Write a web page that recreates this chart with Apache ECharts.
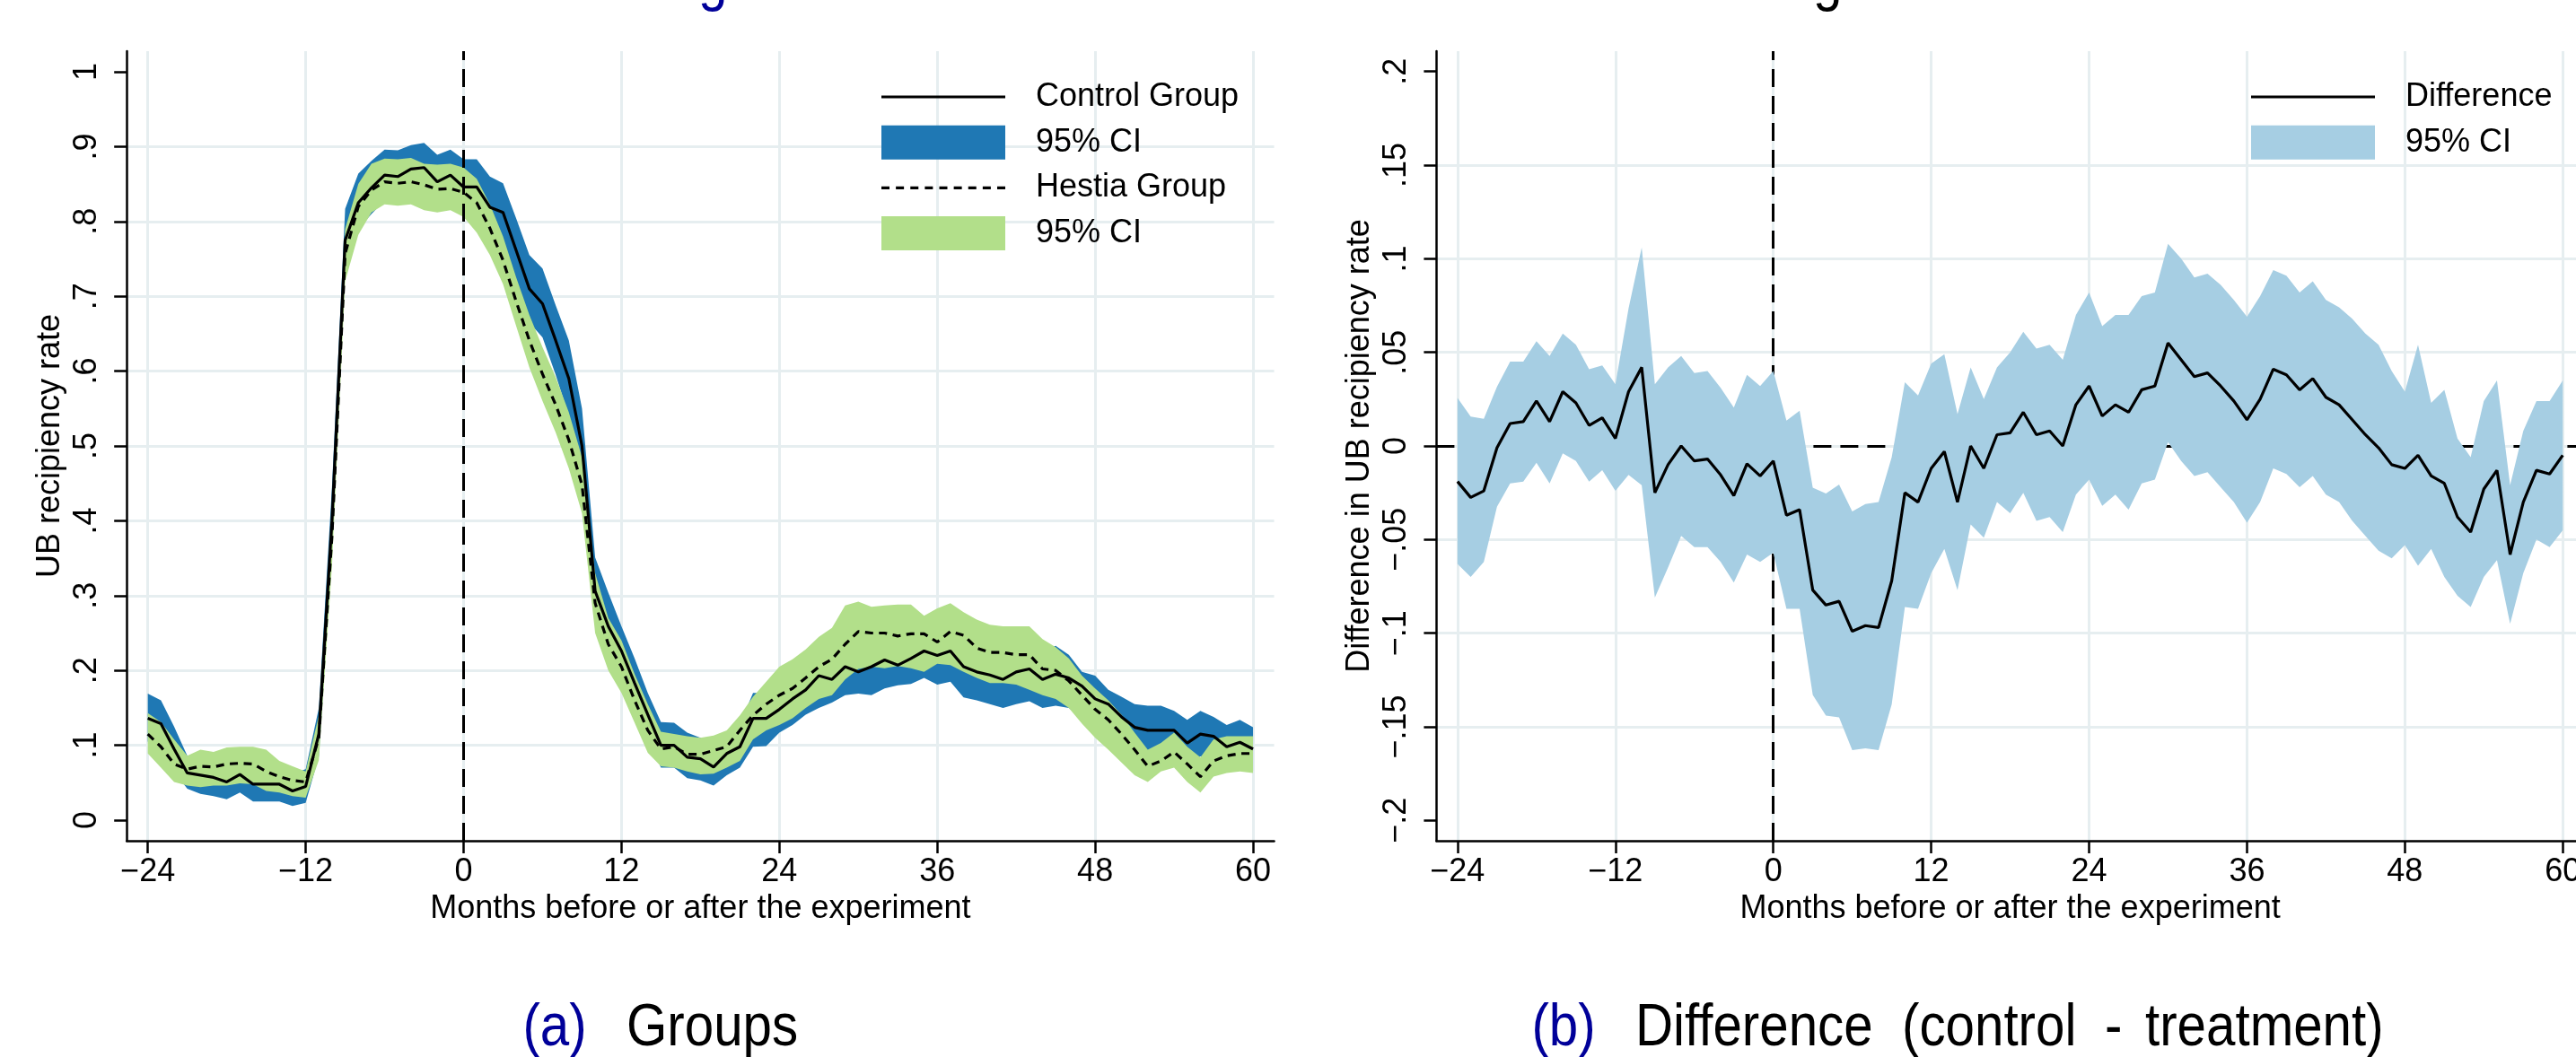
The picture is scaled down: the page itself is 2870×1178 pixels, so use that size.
<!DOCTYPE html>
<html><head><meta charset="utf-8">
<script src="https://cdn.jsdelivr.net/npm/echarts@6.0.0/dist/echarts.min.js"></script>
<style>html,body{margin:0;padding:0;background:#fff}#c{width:2870px;height:1178px}</style>
</head><body><div id="c"></div>
<script>
// ---------------- data ----------------
const months = [-24,-23,-22,-21,-20,-19,-18,-17,-16,-15,-14,-13,
 -12,-11,-10,-9,-8,-7,-6,-5,-4,-3,-2,-1,
 0,1,2,3,4,5,6,7,8,9,10,11,
 12,13,14,15,16,17,18,19,20,21,22,23,
 24,25,26,27,28,29,30,31,32,33,34,35,
 36,37,38,39,40,41,42,43,44,45,46,47,
 48,49,50,51,52,53,54,55,56,57,58,59,60];

const control = [0.136,0.129,0.095,0.063,0.060,0.057,0.051,0.061,0.048,0.048,0.048,0.039,
 0.045,0.115,0.400,0.775,0.825,0.845,0.862,0.860,0.870,0.872,0.853,0.862,
 0.846,0.846,0.819,0.812,0.761,0.710,0.690,0.641,0.590,0.500,0.306,0.259,
 0.226,0.183,0.141,0.100,0.100,0.084,0.082,0.071,0.089,0.098,0.136,0.136,
 0.148,0.162,0.174,0.193,0.188,0.205,0.198,0.205,0.214,0.207,0.216,0.226,
 0.220,0.226,0.205,0.198,0.194,0.188,0.198,0.202,0.188,0.195,0.190,0.179,
 0.162,0.155,0.138,0.124,0.120,0.120,0.120,0.103,0.115,0.112,0.098,0.104,0.095];

const controlLo = [0.105,0.098,0.065,0.042,0.035,0.032,0.028,0.037,0.025,0.025,0.025,0.019,
 0.023,0.085,0.355,0.735,0.790,0.810,0.828,0.826,0.836,0.838,0.818,0.828,
 0.810,0.808,0.780,0.772,0.718,0.665,0.645,0.595,0.540,0.450,0.265,0.220,
 0.190,0.150,0.110,0.070,0.070,0.056,0.053,0.046,0.060,0.070,0.098,0.099,
 0.117,0.127,0.141,0.150,0.157,0.167,0.169,0.167,0.176,0.180,0.182,0.190,
 0.181,0.185,0.164,0.160,0.155,0.150,0.155,0.159,0.150,0.153,0.150,0.136,
 0.127,0.117,0.108,0.098,0.090,0.090,0.090,0.075,0.085,0.085,0.068,0.075,0.066];

const controlHi = [0.169,0.160,0.125,0.086,0.083,0.080,0.075,0.085,0.072,0.072,0.072,0.062,
 0.068,0.150,0.445,0.817,0.864,0.881,0.896,0.895,0.902,0.905,0.889,0.896,
 0.883,0.883,0.860,0.851,0.804,0.755,0.737,0.688,0.641,0.550,0.351,0.304,
 0.259,0.216,0.170,0.131,0.130,0.117,0.110,0.100,0.118,0.128,0.170,0.170,
 0.180,0.195,0.205,0.225,0.220,0.240,0.228,0.238,0.245,0.238,0.248,0.258,
 0.250,0.258,0.240,0.232,0.228,0.222,0.232,0.238,0.225,0.233,0.221,0.198,
 0.193,0.174,0.165,0.155,0.153,0.153,0.146,0.134,0.146,0.138,0.127,0.134,0.124];

const hestia = [0.115,0.098,0.075,0.068,0.072,0.071,0.075,0.076,0.075,0.065,0.058,0.053,
 0.051,0.110,0.380,0.757,0.820,0.842,0.853,0.851,0.853,0.849,0.843,0.844,
 0.839,0.825,0.791,0.748,0.693,0.641,0.596,0.555,0.508,0.448,0.290,0.235,
 0.205,0.160,0.120,0.095,0.098,0.088,0.088,0.093,0.098,0.120,0.140,0.155,
 0.167,0.176,0.190,0.205,0.215,0.235,0.252,0.250,0.250,0.246,0.249,0.249,
 0.238,0.252,0.247,0.230,0.224,0.224,0.221,0.221,0.202,0.200,0.186,0.167,
 0.148,0.134,0.115,0.094,0.072,0.079,0.091,0.075,0.058,0.079,0.086,0.089,0.089];

const hestiaLo = [0.089,0.070,0.051,0.046,0.044,0.046,0.046,0.049,0.048,0.039,0.037,0.032,
 0.030,0.080,0.340,0.720,0.782,0.812,0.823,0.821,0.823,0.815,0.812,0.815,
 0.806,0.785,0.755,0.716,0.660,0.605,0.560,0.518,0.470,0.410,0.250,0.200,
 0.170,0.130,0.090,0.072,0.070,0.065,0.061,0.062,0.070,0.079,0.108,0.120,
 0.127,0.136,0.150,0.162,0.167,0.188,0.202,0.205,0.203,0.206,0.203,0.198,
 0.209,0.207,0.198,0.190,0.183,0.183,0.181,0.174,0.167,0.162,0.150,0.129,
 0.110,0.094,0.077,0.060,0.051,0.065,0.070,0.051,0.037,0.058,0.063,0.065,0.063];

const hestiaHi = [0.143,0.131,0.108,0.086,0.094,0.091,0.097,0.098,0.098,0.094,0.079,0.072,
 0.065,0.140,0.420,0.790,0.850,0.877,0.884,0.883,0.885,0.877,0.876,0.877,
 0.872,0.857,0.823,0.780,0.725,0.675,0.632,0.592,0.545,0.485,0.330,0.270,
 0.240,0.195,0.155,0.118,0.115,0.112,0.110,0.113,0.120,0.140,0.165,0.185,
 0.205,0.215,0.228,0.245,0.257,0.287,0.292,0.285,0.287,0.288,0.288,0.273,
 0.283,0.290,0.278,0.268,0.261,0.259,0.259,0.259,0.242,0.231,0.216,0.193,
 0.176,0.160,0.141,0.117,0.094,0.103,0.117,0.098,0.084,0.108,0.112,0.112,0.112];

const diff = [-0.019,-0.0275,-0.024,-0.001,0.012,0.013,0.024,0.013,0.029,0.023,0.011,0.015,
 0.004,0.029,0.042,-0.025,-0.010,0.000,-0.008,-0.007,-0.0155,-0.0265,-0.0095,-0.016,
 -0.008,-0.037,-0.034,-0.077,-0.085,-0.083,-0.099,-0.096,-0.097,-0.072,-0.025,-0.030,
 -0.012,-0.003,-0.030,0.000,-0.012,0.006,0.007,0.018,0.006,0.008,0.000,0.022,
 0.032,0.016,0.022,0.018,0.030,0.032,0.055,0.046,0.037,0.039,0.032,0.024,
 0.014,0.025,0.041,0.038,0.030,0.036,0.026,0.022,0.014,0.006,-0.001,-0.010,
 -0.012,-0.005,-0.016,-0.020,-0.038,-0.046,-0.023,-0.013,-0.058,-0.030,-0.013,-0.015,-0.005];

const diffLo = [-0.063,-0.070,-0.062,-0.0325,-0.020,-0.019,-0.009,-0.020,-0.004,-0.008,-0.019,-0.013,
 -0.024,-0.0155,-0.021,-0.081,-0.065,-0.048,-0.054,-0.054,-0.062,-0.073,-0.058,-0.062,
 -0.057,-0.087,-0.087,-0.133,-0.144,-0.145,-0.1625,-0.1615,-0.1625,-0.138,-0.086,-0.087,
 -0.068,-0.055,-0.077,-0.042,-0.049,-0.030,-0.036,-0.025,-0.040,-0.038,-0.046,-0.026,
 -0.018,-0.032,-0.026,-0.034,-0.020,-0.018,0.002,-0.008,-0.016,-0.014,-0.022,-0.030,
 -0.041,-0.030,-0.012,-0.015,-0.022,-0.016,-0.026,-0.030,-0.040,-0.048,-0.056,-0.060,
 -0.053,-0.064,-0.055,-0.070,-0.080,-0.086,-0.070,-0.061,-0.095,-0.068,-0.050,-0.054,-0.045];

const diffHi = [0.0256,0.0157,0.0145,0.0316,0.045,0.045,0.056,0.048,0.060,0.054,0.041,0.043,
 0.033,0.0735,0.106,0.033,0.042,0.048,0.039,0.040,0.031,0.0205,0.038,0.032,
 0.040,0.0136,0.0188,-0.0223,-0.0254,-0.0206,-0.035,-0.031,-0.030,-0.006,0.034,0.027,
 0.044,0.049,0.017,0.042,0.025,0.042,0.050,0.061,0.052,0.054,0.046,0.070,
 0.082,0.064,0.070,0.070,0.080,0.082,0.108,0.100,0.090,0.092,0.086,0.078,
 0.069,0.080,0.094,0.091,0.082,0.088,0.078,0.074,0.068,0.060,0.054,0.040,
 0.029,0.054,0.023,0.030,0.004,-0.006,0.024,0.035,-0.021,0.008,0.024,0.024,0.035];

const xTicks  = [-24,-12,0,12,24,36,48,60];
const xLabels = ['\u221224','\u221212','0','12','24','36','48','60'];
const yTicksA  = [0,0.1,0.2,0.3,0.4,0.5,0.6,0.7,0.8,0.9,1];
const yLabelsA = ['0','.1','.2','.3','.4','.5','.6','.7','.8','.9','1'];
const yTicksB  = [-0.2,-0.15,-0.1,-0.05,0,0.05,0.1,0.15,0.2];
const yLabelsB = ['\u2212.2','\u2212.15','\u2212.1','\u2212.05','0','.05','.1','.15','.2'];

const xTitle  = 'Months before or after the experiment';
const yTitleA = 'UB recipiency rate';
const yTitleB = 'Difference in UB recipiency rate';

// ---------------- styling ----------------
const FONT = '"Liberation Sans", Arial, Helvetica, sans-serif';
const GRIDC = '#e6eef0';
const BLUE = '#1f78b4', GREEN = '#b2df8a', LBLUE = '#a6cee3';
const CAPBLUE = '#000099';
const AXW = 2.5;
const SOLID_ICON = 'path://M0,0H138V3.2H0Z';
const DASH_ICON = 'path://' + [0,16.125,32.25,48.375,64.5,80.625,96.75,112.875,129]
  .map(x => 'M' + x + ',0h9v3.2h-9Z').join('');

const pairs = (xs, ys) => xs.map((x, i) => [x, ys[i]]);
const lbl = (ticks, labels) => v => {
  const i = ticks.findIndex(t => Math.abs(t - v) < 1e-9);
  return i < 0 ? '' : labels[i];
};
const gridColors = ticks => ticks.map((t, i) => (i === 0 || i === ticks.length - 1) ? 'rgba(0,0,0,0)' : GRIDC);

const txt = { color: '#000', fontSize: 36, fontFamily: FONT };

function xAxisCfg(gi) {
  return {
    type: 'value', gridIndex: gi, min: -25.6, max: 61.6,
    axisLine: { show: true, onZero: false, lineStyle: { color: '#000', width: AXW } },
    axisTick: { show: true, customValues: xTicks, length: 14, lineStyle: { color: '#000', width: AXW } },
    axisLabel: Object.assign({ show: true, customValues: xTicks, formatter: lbl(xTicks, xLabels), margin: 17,
      showMinLabel: true, showMaxLabel: true, hideOverlap: false }, txt),
    splitLine: { show: true, lineStyle: { color: GRIDC, width: 3 } },
    name: xTitle, nameLocation: 'middle', nameGap: 57, nameTextStyle: Object.assign({}, txt)
  };
}
function yAxisCfg(gi, mn, mx, ticks, labels, title) {
  return {
    type: 'value', gridIndex: gi, min: mn, max: mx,
    axisLine: { show: true, onZero: false, lineStyle: { color: '#000', width: AXW } },
    axisTick: { show: true, customValues: ticks, length: 14, lineStyle: { color: '#000', width: AXW } },
    axisLabel: Object.assign({ show: true, customValues: ticks, formatter: lbl(ticks, labels), rotate: 90, margin: 26,
      showMinLabel: true, showMaxLabel: true, hideOverlap: false }, txt),
    splitLine: { show: true, lineStyle: { color: gridColors(ticks), width: 3 } },
    name: title, nameLocation: 'middle', nameGap: 67, nameRotate: 90, nameTextStyle: Object.assign({}, txt)
  };
}
// confidence band: polygon through upper values then back through lower values, via the axes' coord()
function bandSeries(gi, lo, hi, color, name) {
  const data = months.map((m, i) => [m, lo[i], hi[i]]);
  return {
    name: name, type: 'custom', xAxisIndex: gi, yAxisIndex: gi, data: data, silent: true,
    encode: { x: 0, y: [1, 2] }, itemStyle: { color: color }, clip: true, z: 2,
    renderItem: function (params, api) {
      if (params.dataIndex !== 0) return null;
      const pts = [];
      for (let i = 0; i < data.length; i++) pts.push(api.coord([data[i][0], data[i][2]]));
      for (let i = data.length - 1; i >= 0; i--) pts.push(api.coord([data[i][0], data[i][1]]));
      return { type: 'polygon', shape: { points: pts }, style: { fill: color, stroke: null } };
    }
  };
}
const dashedMark = (z, data) => ({
  silent: true, z: z, symbol: ['none', 'none'], label: { show: false }, animation: false,
  emphasis: { disabled: true }, lineStyle: { color: '#000', width: 3, type: [20, 10] }, data: data
});
const legendFmt = n => n.indexOf('95% CI') === 0 ? '95% CI' : n;
function legendCfg(left, data) {
  return {
    left: left, top: 85, orient: 'vertical', itemWidth: 138, itemHeight: 38, itemGap: 13.7,
    selectedMode: false, symbolKeepAspect: true, formatter: legendFmt,
    itemStyle: { borderWidth: 0 },
    textStyle: Object.assign({ padding: [0, 0, 0, 29] }, txt), data: data
  };
}
// captions: Liberation Sans squeezed horizontally to a narrow face
const capText = (x, y, text, fill, align) => ({
  type: 'text', x: x, y: y, scaleX: 0.87, silent: true,
  style: { text: text, fill: fill, font: '67px "Liberation Sans", Arial, sans-serif', textAlign: align || 'left', textVerticalAlign: 'bottom' }
});

const option = {
  animation: false,
  backgroundColor: '#fff',
  grid: [
    { left: 141.2, top: 57, width: 1278.3, height: 880, containLabel: false, outerBoundsMode: 'none' },
    { left: 1600.4, top: 57, width: 1278.3, height: 880, containLabel: false, outerBoundsMode: 'none' }
  ],
  xAxis: [xAxisCfg(0), xAxisCfg(1)],
  yAxis: [
    yAxisCfg(0, -0.0276, 1.0276, yTicksA, yLabelsA, yTitleA),
    yAxisCfg(1, -0.2109, 0.2109, yTicksB, yLabelsB, yTitleB)
  ],
  legend: [
    legendCfg(977, [
      { name: 'Control Group', icon: SOLID_ICON, itemStyle: { color: '#000', opacity: 1 } },
      { name: '95% CI (control)', icon: 'rect', itemStyle: { color: BLUE, opacity: 1 } },
      { name: 'Hestia Group', icon: DASH_ICON, itemStyle: { color: '#000', opacity: 1 } },
      { name: '95% CI (Hestia)', icon: 'rect', itemStyle: { color: GREEN, opacity: 1 } }
    ]),
    legendCfg(2503, [
      { name: 'Difference', icon: SOLID_ICON, itemStyle: { color: '#000', opacity: 1 } },
      { name: '95% CI (difference)', icon: 'rect', itemStyle: { color: LBLUE, opacity: 1 } }
    ])
  ],
  series: [
    bandSeries(0, controlLo, controlHi, BLUE, '95% CI (control)'),
    bandSeries(0, hestiaLo, hestiaHi, GREEN, '95% CI (Hestia)'),
    { name: 'Control Group', type: 'line', xAxisIndex: 0, yAxisIndex: 0, data: pairs(months, control), z: 3,
      symbol: 'none', silent: true, lineStyle: { color: '#000', width: 3.2 }, itemStyle: { color: '#000' } },
    { name: 'Hestia Group', type: 'line', xAxisIndex: 0, yAxisIndex: 0, data: pairs(months, hestia), z: 3,
      symbol: 'none', silent: true, lineStyle: { color: '#000', width: 3.2, type: [9, 6.5] }, itemStyle: { color: '#000' },
      markLine: dashedMark(5, [{ xAxis: 0 }]) },
    bandSeries(1, diffLo, diffHi, LBLUE, '95% CI (difference)'),
    { name: 'Difference', type: 'line', xAxisIndex: 1, yAxisIndex: 1, data: pairs(months, diff), z: 3,
      symbol: 'none', silent: true, lineStyle: { color: '#000', width: 3.2 }, itemStyle: { color: '#000' },
      markLine: dashedMark(1, [{ xAxis: 0 }, { yAxis: 0 }]) }
  ],
  graphic: [
    capText(778, 14, 'g', CAPBLUE),
    capText(2020, 14, 'g', '#000'),
    capText(618, 1180, '(a)', CAPBLUE, 'center'),
    capText(698, 1180, 'Groups', '#000'),
    capText(1742, 1180, '(b)', CAPBLUE, 'center'),
    capText(1822, 1180, 'Difference', '#000'),
    capText(2119, 1180, '(control', '#000'),
    capText(2345, 1180, '-', '#000'),
    capText(2390, 1180, 'treatment)', '#000')
  ]
};

const chart = echarts.init(document.getElementById('c'), null, { renderer: 'canvas', width: 2870, height: 1178 });
chart.setOption(option);
</script>
</body></html>
